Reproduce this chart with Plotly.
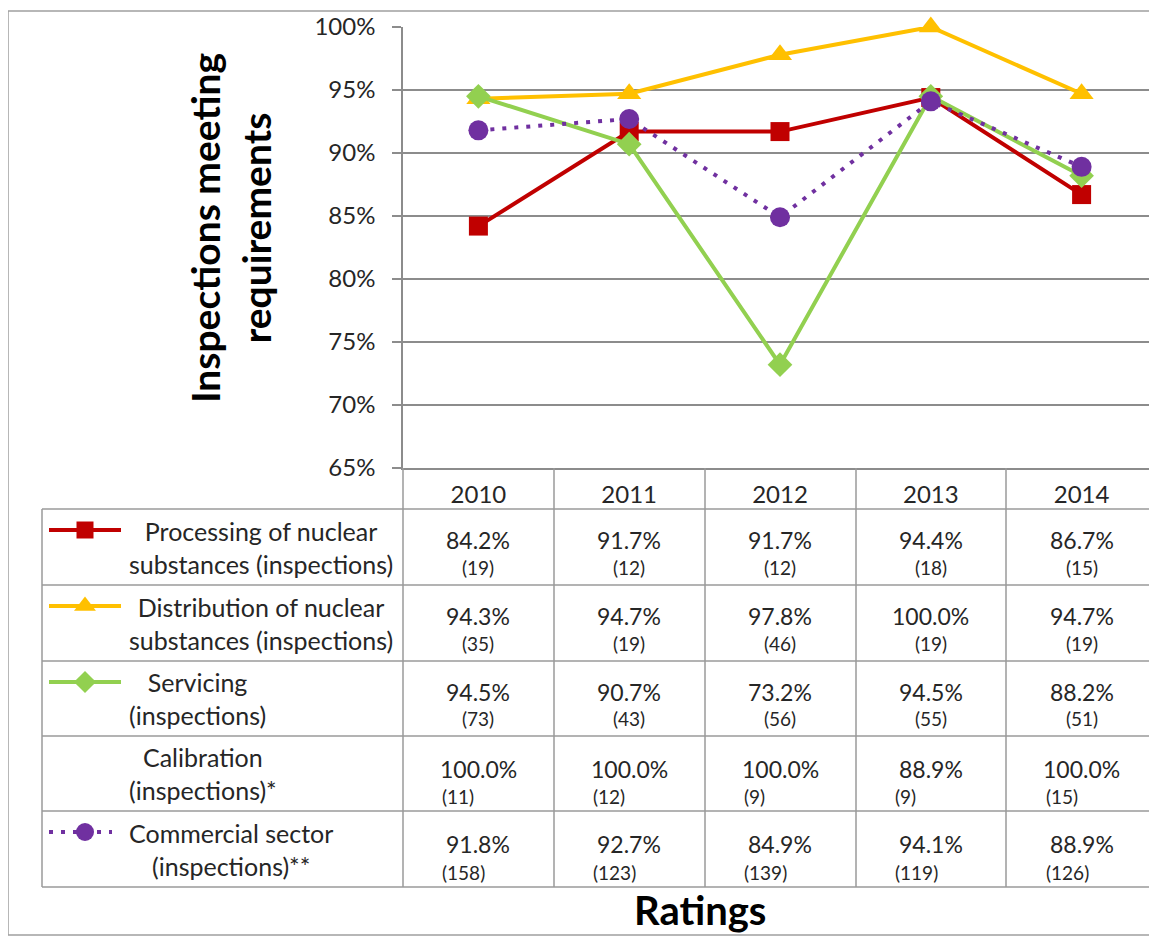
import plotly.graph_objects as go

years = ['2010', '2011', '2012', '2013', '2014']

processing = [0.842, 0.917, 0.917, 0.944, 0.867]
processing_n = [19, 12, 12, 18, 15]
distribution = [0.943, 0.947, 0.978, 1.000, 0.947]
distribution_n = [35, 19, 46, 19, 19]
servicing = [0.945, 0.907, 0.732, 0.945, 0.882]
servicing_n = [73, 43, 56, 55, 51]
calibration = [1.000, 1.000, 1.000, 0.889, 1.000]
calibration_n = [11, 12, 9, 9, 15]
commercial = [0.918, 0.927, 0.849, 0.941, 0.889]
commercial_n = [158, 123, 139, 119, 126]

row_labels = ['Processing of nuclear<br>substances (inspections)',
              'Distribution of nuclear<br>substances (inspections)',
              'Servicing<br>(inspections)',
              'Calibration<br>(inspections)*',
              'Commercial sector<br>(inspections)**']

# (values, counts, colour, symbol, size, dash, drawn as a line)
series = [
    (processing, processing_n, '#C00000', 'square', 19, 'solid', True),
    (distribution, distribution_n, '#FFC000', 'triangle-up', 21, 'solid', True),
    (servicing, servicing_n, '#92D050', 'diamond', 19, 'solid', True),
    (calibration, calibration_n, None, None, 0, None, False),
    (commercial, commercial_n, '#7030A0', 'circle', 20, '4px,8px', True),
]

W, H = 1157, 937
OFF = 8  # page margin added by the browser
FONT = 'Lato'
GRID = '#8c8c8c'
TXT = '#262626'


def px(x):
    return (x - OFF) / W


def py(y):
    return 1 - (y - OFF) / H


# table geometry in pixels (as seen on screen)
col_edges = [403, 554, 705, 856, 1006, 1157]
row_edges = [509, 585, 661, 736, 811, 887]
header_top = 468
legend_left = 42

fig = go.Figure()

xs = list(range(len(years)))
for vals, counts, color, symbol, size, dash, drawn in series:
    if not drawn:
        continue
    fig.add_trace(go.Scatter(
        x=xs, y=vals, mode='lines+markers', cliponaxis=False,
        line=dict(color=color, width=4, dash=dash),
        marker=dict(symbol=symbol, size=size, color=color),
        showlegend=False, hoverinfo='skip'))

# legend keys inside the table, drawn on a second axis pair in screen pixels
for i, (vals, counts, color, symbol, size, dash, drawn) in enumerate(series):
    if not drawn:
        continue
    ky = row_edges[i] + 21
    x_end = 112 if dash != 'solid' else 121
    fig.add_trace(go.Scatter(
        x=[49, 121 if dash == 'solid' else 85, x_end], y=[ky, ky, ky],
        mode='lines', line=dict(color=color, width=4, dash=dash),
        xaxis='x2', yaxis='y2', showlegend=False, hoverinfo='skip'))
    fig.add_trace(go.Scatter(
        x=[85], y=[ky], mode='markers',
        marker=dict(symbol=symbol, size=size - 2, color=color, opacity=1,
                    line=dict(width=0)),
        xaxis='x2', yaxis='y2', showlegend=False, hoverinfo='skip'))

shapes = []
line_style = dict(color='#9a9a9a', width=1.5)
# outer frame
shapes.append(dict(type='rect', xref='paper', yref='paper',
                   x0=px(8), x1=px(1175), y0=py(935), y1=py(11),
                   line=dict(color='#a0a0a0', width=1.5)))
# horizontal table lines
for r in row_edges:
    shapes.append(dict(type='line', xref='paper', yref='paper',
                       x0=px(legend_left), x1=px(W + 10), y0=py(r), y1=py(r),
                       line=line_style))
# vertical lines
for c in col_edges[1:-1]:
    shapes.append(dict(type='line', xref='paper', yref='paper',
                       x0=px(c), x1=px(c), y0=py(header_top), y1=py(row_edges[-1]),
                       line=line_style))
shapes.append(dict(type='line', xref='paper', yref='paper',
                   x0=px(col_edges[0]), x1=px(col_edges[0]),
                   y0=py(header_top), y1=py(row_edges[-1]), line=line_style))
shapes.append(dict(type='line', xref='paper', yref='paper',
                   x0=px(legend_left), x1=px(legend_left),
                   y0=py(row_edges[0]), y1=py(row_edges[-1]), line=line_style))

annotations = []
for i, (vals, counts, color, symbol, size, dash, drawn) in enumerate(series):
    top, bottom = row_edges[i], row_edges[i + 1]
    mid = (top + bottom) / 2
    annotations.append(dict(
        text=row_labels[i], xref='paper', yref='paper',
        x=px(127), y=py(mid), xanchor='left', yanchor='middle', align='center',
        showarrow=False, font=dict(family=FONT, size=25, color=TXT)))
    left_style = i >= 3
    for j, (v, n) in enumerate(zip(vals, counts)):
        annotations.append(dict(
            text=f'{v * 100:.1f}%', xref='x', yref='paper',
            x=j, y=py(mid - 5 if left_style else mid - 7),
            xanchor='center', yanchor='middle', showarrow=False,
            font=dict(family=FONT, size=23, color=TXT)))
        annotations.append(dict(
            text=f'({n})', xref='x', yref='paper',
            x=j, y=py(mid + 23 if left_style else mid + 20),
            xanchor='left' if left_style else 'center',
            xshift=-38 if left_style else 0,
            yanchor='middle', showarrow=False,
            font=dict(family=FONT, size=19, color=TXT)))

annotations.append(dict(
    text='<b>Inspections meeting<br>requirements</b>', xref='paper', yref='paper',
    x=px(231), y=py(228), xanchor='center', yanchor='middle', textangle=-90,
    showarrow=False, font=dict(family=FONT, size=39, color='#000000')))
annotations.append(dict(
    text='<b>Ratings</b>', xref='paper', yref='paper',
    x=px(700), y=py(910), xanchor='center', yanchor='middle',
    showarrow=False, font=dict(family=FONT, size=40, color='#000000')))

fig.update_layout(
    width=W, height=H, autosize=False, showlegend=False,
    margin=dict(l=0, r=0, t=0, b=0, pad=0),
    paper_bgcolor='white', plot_bgcolor='rgba(0,0,0,0)',
    shapes=shapes, annotations=annotations,
    xaxis=dict(domain=[px(403), px(1157)], range=[-0.5, len(years) - 0.5],
               tickmode='array', tickvals=xs, ticktext=years,
               ticks='', showgrid=False, zeroline=False, automargin=False,
               showline=True, linecolor=GRID, linewidth=1.5,
               tickfont=dict(family=FONT, size=24, color=TXT),
               ticklabelstandoff=4),
    yaxis=dict(domain=[py(468), py(27)], range=[0.65, 1.0],
               tickformat='.0%', dtick=0.05, tick0=0.65,
               showgrid=True, gridcolor=GRID, gridwidth=1.5, automargin=False,
               zeroline=False, showline=True, linecolor=GRID, linewidth=1.5,
               ticks='outside', ticklen=9, tickcolor=GRID, tickwidth=1.5,
               tickfont=dict(family=FONT, size=24, color=TXT),
               ticklabelstandoff=12),
    xaxis2=dict(domain=[0, 1], range=[OFF, W + OFF], visible=False,
                anchor='y2', automargin=False),
    yaxis2=dict(domain=[0, 1], range=[H + OFF, OFF], visible=False,
                anchor='x2', automargin=False),
)

fig.write_html('out.html')
